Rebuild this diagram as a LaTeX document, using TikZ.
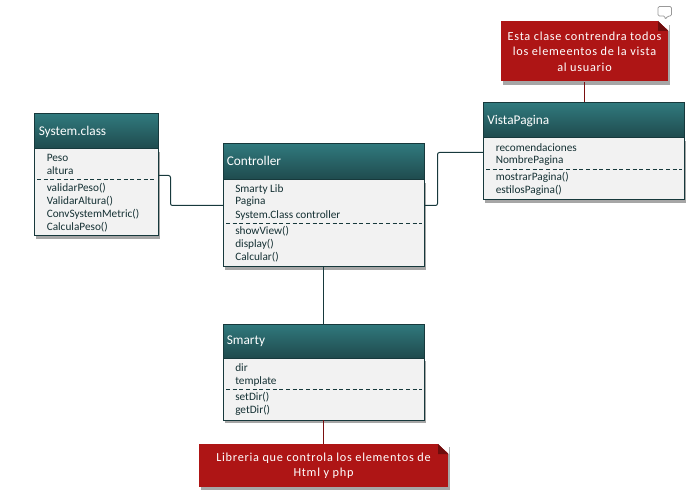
\documentclass[tikz,border=0pt]{standalone}
\usepackage{fontspec}
\setmainfont{Carlito}
\newfontfamily\notefont[LetterSpace=6]{Carlito}
\usetikzlibrary{shadows}

\definecolor{edgeteal}{HTML}{17393C}
\definecolor{headtop}{HTML}{30797D}
\definecolor{headbot}{HTML}{1F4A4D}
\definecolor{bodygray}{HTML}{F2F2F2}
\definecolor{notered}{HTML}{AE1515}
\definecolor{notedark}{HTML}{6E0D0D}

\tikzset{
	x=0.75pt, y=-0.75pt,
	classbody/.style={draw=edgeteal, line width=0.75pt, fill=bodygray, inner sep=0pt,
		drop shadow={shadow xshift=1.2pt, shadow yshift=-2.4pt, opacity=0.35, fill=black}},
	classhead/.style={draw=edgeteal, line width=0.75pt, top color=headtop, bottom color=headbot, inner sep=0pt},
	classtitle/.style={anchor=west, inner sep=0pt, text=white, font=\fontsize{10}{12}\selectfont},
	member/.style={anchor=west, inner sep=0pt, text=edgeteal!85!black, font=\fontsize{8.45}{9}\selectfont},
	rel/.style={draw=edgeteal, line width=0.75pt, rounded corners=1.5pt},
	noterel/.style={draw=notered!70!black, line width=0.75pt},
	notebox/.style={fill=notered, inner sep=0pt, text=white, align=center,
		font=\notefont\fontsize{9.2}{11.6}\selectfont,
		drop shadow={shadow xshift=1.2pt, shadow yshift=-2.4pt, opacity=0.35, fill=black}},
	sepline/.style={edgeteal, line width=0.5pt, densely dashed}
}

\begin{document}
\begin{tikzpicture}
	\useasboundingbox (0,0) rectangle (686,499);

	%connector ends
	\coordinate (sysout) at (158,175.5);
	\coordinate (ctrlin) at (223.5,205.5);
	\coordinate (ctrlout) at (424.5,205.5);
	\coordinate (vistain) at (483,152.5);
	\coordinate (elbowa) at (170.5,190);
	\coordinate (elbowb) at (437.5,180);
	\coordinate (ctrldown) at (323.5,267);
	\coordinate (smartydown) at (323.5,420);

	%System.class
	\node[classbody, minimum width=93pt, minimum height=65.25pt] (sysbody) at (96,192.5) {};
	\node[classhead, minimum width=93pt, minimum height=26.25pt] (syshead) at (96,131.5) {};
	\node[classtitle] (systitle) at (38.5,132) {System.class};
	\node[member] (sys1) at (46.5,158) {Peso};
	\node[member] (sys2) at (46.5,171) {altura};
	\node[member] (sys3) at (46.5,188) {validarPeso()};
	\node[member] (sys4) at (46.5,201) {ValidarAltura()};
	\node[member] (sys5) at (46.5,214) {ConvSystemMetric()};
	\node[member] (sys6) at (46.5,227) {CalculaPeso()};
	\draw[sepline] (37,179.5) -- (155,179.5);

	%Controller
	\node[classbody, minimum width=150.75pt, minimum height=65.25pt] (ctrlbody) at (324,223.5) {};
	\node[classhead, minimum width=150.75pt, minimum height=27pt] (ctrlhead) at (324,162) {};
	\node[classtitle] (ctrltitle) at (226.5,161) {Controller};
	\node[member] (ctrl1) at (235,189) {Smarty Lib};
	\node[member] (ctrl2) at (235,202) {Pagina};
	\node[member] (ctrl3) at (235,215) {System.Class controller};
	\node[member] (ctrl4) at (235,231) {showView()};
	\node[member] (ctrl5) at (235,244) {display()};
	\node[member] (ctrl6) at (235,257) {Calcular()};
	\draw[sepline] (226,223) -- (422,223);

	%VistaPagina
	\node[classbody, minimum width=150.75pt, minimum height=46.5pt] (vistabody) at (583.5,169) {};
	\node[classhead, minimum width=150.75pt, minimum height=26.25pt] (vistahead) at (583.5,120.5) {};
	\node[classtitle] (vistatitle) at (487,121) {VistaPagina};
	\node[member] (vista1) at (495.5,148) {recomendaciones};
	\node[member] (vista2) at (495.5,161) {NombrePagina};
	\node[member] (vista3) at (495.5,177) {mostrarPagina()};
	\node[member] (vista4) at (495.5,190) {estilosPagina()};
	\draw[sepline] (486,169.5) -- (682,169.5);

	%Smarty
	\node[classbody, minimum width=150.75pt, minimum height=46.5pt] (smartybody) at (324,389) {};
	\node[classhead, minimum width=150.75pt, minimum height=25.5pt] (smartyhead) at (324,341) {};
	\node[classtitle] (smartytitle) at (226.5,341.5) {Smarty};
	\node[member] (smarty1) at (235,368) {dir};
	\node[member] (smarty2) at (235,381) {template};
	\node[member] (smarty3) at (235,397) {setDir()};
	\node[member] (smarty4) at (235,410) {getDir()};
	\draw[sepline] (226,389.5) -- (422,389.5);

	%notes
	\node[notebox, minimum width=125.25pt, minimum height=45pt] (notevista) at (584.5,51.5)
		{Esta clase contrendra todos\\los elemeentos de la vista\\al usuario};
	\node[notebox, minimum width=186.75pt, minimum height=32.25pt] (notesmarty) at (323.5,465.5)
		{Libreria que controla los elementos de\\Html y php};

	%note corners
	\fill[white] (658,21) -- (669,21) -- (669,31) -- cycle;
	\fill[notedark] (658,21) -- (658,31) -- (668,31) -- cycle;
	\fill[white] (438,444) -- (449,444) -- (449,454) -- cycle;
	\fill[notedark] (438,444) -- (438,454) -- (448,454) -- cycle;

	%comment mark
	\draw[gray!80, fill=white, line width=0.6pt, rounded corners=1pt] (658,6.5) -- (671.5,6.5) -- (671.5,16) -- (668,16) -- (665,19.5) -- (665,16) -- (658,16) -- cycle;

	%relations
	\draw[rel] (sysout) -| (elbowa) |- (ctrlin);
	\draw[rel] (ctrlout) -| (elbowb) |- (vistain);
	\draw[rel] (ctrldown) -- (ctrldown |- smartyhead.north);
	\draw[noterel] (notevista.south) -- (notevista.south |- vistahead.north);
	\draw[noterel] (smartydown) -- (smartydown |- notesmarty.north);
\end{tikzpicture}
\end{document}
